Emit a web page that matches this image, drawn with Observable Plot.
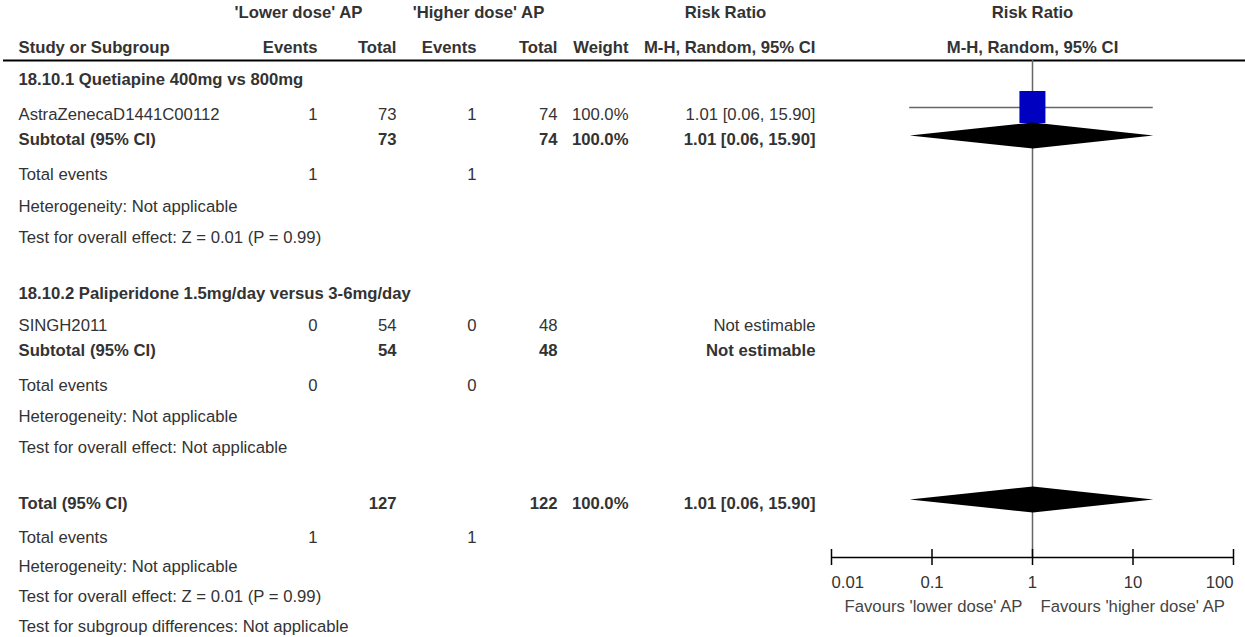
<!DOCTYPE html>
<html><head><meta charset="utf-8">
<script src="https://cdn.jsdelivr.net/npm/d3@7"></script>
<script src="https://cdn.jsdelivr.net/npm/@observablehq/plot@0.6"></script>
<style>
html,body{margin:0;padding:0;background:#fff;}
#chart{position:relative;width:1245px;height:637px;overflow:hidden;}
#chart svg{position:absolute;left:0;top:0;background:transparent;}
</style></head><body><div id="chart"></div>
<script>
// ---------- DATA ----------
const groupHeaders = ["'Lower dose' AP", "'Higher dose' AP", "Risk Ratio", "Risk Ratio"];
const columnHeaders = ["Study or Subgroup", "Events", "Total", "Events", "Total", "Weight", "M-H, Random, 95% CI", "M-H, Random, 95% CI"];
const rowLabels = [
  "18.10.1 Quetiapine 400mg vs 800mg",
  "AstraZenecaD1441C00112",
  "Subtotal (95% CI)",
  "Total events",
  "Heterogeneity: Not applicable",
  "Test for overall effect: Z = 0.01 (P = 0.99)",
  "18.10.2 Paliperidone 1.5mg/day versus 3-6mg/day",
  "SINGH2011",
  "Subtotal (95% CI)",
  "Total events",
  "Heterogeneity: Not applicable",
  "Test for overall effect: Not applicable",
  "Total (95% CI)",
  "Total events",
  "Heterogeneity: Not applicable",
  "Test for overall effect: Z = 0.01 (P = 0.99)",
  "Test for subgroup differences: Not applicable"
];
const rowBold      = [true,false,true,false,false,false,true,false,true,false,false,false,true,false,false,false,false];
const lowerEvents  = ["","1","","1","","","","0","","0","","","","1","","",""];
const lowerTotal   = ["","73","73","","","","","54","54","","","","127","","","",""];
const higherEvents = ["","1","","1","","","","0","","0","","","","1","","",""];
const higherTotal  = ["","74","74","","","","","48","48","","","","122","","","",""];
const weights      = ["","100.0%","100.0%","","","","","","","","","","100.0%","","","",""];
const effectText   = ["","1.01 [0.06, 15.90]","1.01 [0.06, 15.90]","","","","","Not estimable","Not estimable","","","","1.01 [0.06, 15.90]","","","",""];
const estimates    = [null,1.01,1.01,null,null,null,null,null,null,null,null,null,1.01,null,null,null,null];
const ciLower      = [null,0.06,0.06,null,null,null,null,null,null,null,null,null,0.06,null,null,null,null];
const ciUpper      = [null,15.90,15.90,null,null,null,null,null,null,null,null,null,15.90,null,null,null,null];
const markerKind   = ["","study","diamond","","","","","","","","","","diamond","","","",""];
const tickValues   = [0.01, 0.1, 1, 10, 100];
const tickLabels   = ["0.01", "0.1", "1", "10", "100"];
const favoursLabels = ["Favours 'lower dose' AP", "Favours 'higher dose' AP"];

// ---------- LAYOUT ----------
const W = 1245, H = 637;
const FONT = "Liberation Sans, Arial, Helvetica, sans-serif";
const FS = 16.7;
const TEXT = "#333";
const rowY = [79,114,139,174,206,237,293,325,350,385,416,447,503,537,566,596,626];
const studyShift = -7, diamondShift = -4;
const headerY = [12, 47];
const ruleY = 60;
const axisY = 557, tickHalf = 8, tickLabelY = 582, favoursY = 606;
const labelX = 18;
const colRight = {le: 317, lt: 396, he: 476, ht: 557, w: 628, ci: 815};
const groupCenter = [298, 478, 725];
const forestRange = [831, 1233];
const squareW = 26, squareH = 32, diamondHalf = 13;

const rows = rowLabels.map((label, i) => ({
  i, label, bold: rowBold[i], y: rowY[i],
  le: lowerEvents[i], lt: lowerTotal[i], he: higherEvents[i], ht: higherTotal[i],
  w: weights[i], ci: effectText[i],
  est: estimates[i], lo: ciLower[i], hi: ciUpper[i], kind: markerKind[i]
}));
const boldRows = rows.filter(d => d.bold);
const plainRows = rows.filter(d => !d.bold);

const common = {fontFamily: FONT, fontSize: FS, fill: TEXT, lineAnchor: "middle"};

function numCols(data, weight) {
  return ["le","lt","he","ht","w","ci"].map(k =>
    Plot.text(data.filter(d => d[k] !== ""), {x: () => colRight[k], y: "y", text: k, textAnchor: "end", ...common, fontWeight: weight})
  );
}

// ---------- TABLE PLOT ----------
const table = Plot.plot({
  width: W, height: H, margin: 0,
  x: {type: "linear", domain: [0, W], range: [0, W], axis: null},
  y: {type: "linear", domain: [0, H], range: [0, H], axis: null},
  style: {background: "transparent"},
  marks: [
    Plot.text(groupHeaders.slice(0, 3), {x: (d, i) => groupCenter[i], y: () => headerY[0], text: d => d, textAnchor: "middle", ...common, fontWeight: "bold"}),
    Plot.text([columnHeaders[0]], {x: () => labelX, y: () => headerY[1], text: d => d, textAnchor: "start", ...common, fontWeight: "bold"}),
    Plot.text(columnHeaders.slice(1, 7), {x: (d, i) => [colRight.le, colRight.lt, colRight.he, colRight.ht, colRight.w, colRight.ci][i], y: () => headerY[1], text: d => d, textAnchor: "end", ...common, fontWeight: "bold"}),
    Plot.ruleY([ruleY], {x1: 3, x2: W, stroke: "#000", strokeWidth: 2}),
    Plot.text(boldRows, {x: () => labelX, y: "y", text: "label", textAnchor: "start", ...common, fontWeight: "bold"}),
    Plot.text(plainRows, {x: () => labelX, y: "y", text: "label", textAnchor: "start", ...common}),
    ...numCols(boldRows, "bold"),
    ...numCols(plainRows, "normal")
  ]
});

// ---------- FOREST PLOT ----------
const studies = rows.filter(d => d.kind === "study");
const diamonds = rows.filter(d => d.kind === "diamond");
const diamondPts = diamonds.flatMap(d => {
  const yc = d.y + diamondShift;
  return [
    {id: d.i, x: d.lo, y: yc},
    {id: d.i, x: d.est, y: yc - diamondHalf},
    {id: d.i, x: d.hi, y: yc},
    {id: d.i, x: d.est, y: yc + diamondHalf},
    {id: d.i, x: d.lo, y: yc}
  ];
});
const n = tickValues.length;
const forest = Plot.plot({
  width: W, height: H, margin: 0,
  x: {type: "log", domain: [tickValues[0], tickValues[n - 1]], range: forestRange, axis: null},
  y: {type: "linear", domain: [0, H], range: [0, H], axis: null},
  style: {background: "transparent"},
  marks: [
    Plot.text([groupHeaders[3]], {x: () => 1, y: () => headerY[0], text: d => d, textAnchor: "middle", ...common, fontWeight: "bold"}),
    Plot.text([columnHeaders[7]], {x: () => 1, y: () => headerY[1], text: d => d, textAnchor: "middle", ...common, fontWeight: "bold"}),
    Plot.ruleX([1], {y1: ruleY, y2: axisY, stroke: "#666", strokeWidth: 1.5}),
    Plot.ruleY(studies, {y: d => d.y + studyShift, x1: "lo", x2: "hi", stroke: "#666", strokeWidth: 1.5}),
    Plot.rect(studies, {x1: "est", x2: "est", y1: d => d.y + studyShift - squareH / 2, y2: d => d.y + studyShift + squareH / 2,
      insetLeft: -squareW / 2, insetRight: -squareW / 2, fill: "#0000c0"}),
    Plot.line(diamondPts, {x: "x", y: "y", z: "id", fill: "#000", stroke: "none"}),
    Plot.ruleY([axisY], {x1: tickValues[0], x2: tickValues[n - 1], stroke: "#000", strokeWidth: 1.5}),
    Plot.ruleX(tickValues, {y1: axisY - tickHalf, y2: axisY + tickHalf, stroke: "#000", strokeWidth: 1.5}),
    Plot.text([0], {x: i => tickValues[i], y: () => tickLabelY, text: i => tickLabels[i], textAnchor: "start", ...common}),
    Plot.text([1, 2, 3], {x: i => tickValues[i], y: () => tickLabelY, text: i => tickLabels[i], textAnchor: "middle", ...common}),
    Plot.text([n - 1], {x: i => tickValues[i], y: () => tickLabelY, text: i => tickLabels[i], textAnchor: "end", ...common}),
    Plot.text([favoursLabels[0]], {x: () => 1, y: () => favoursY, text: d => d, textAnchor: "end", dx: -10, ...common, fill: "#444"}),
    Plot.text([favoursLabels[1]], {x: () => 1, y: () => favoursY, text: d => d, textAnchor: "start", dx: 8, ...common, fill: "#444"})
  ]
});

const host = document.getElementById("chart");
host.appendChild(table);
host.appendChild(forest);
</script>
</body></html>
